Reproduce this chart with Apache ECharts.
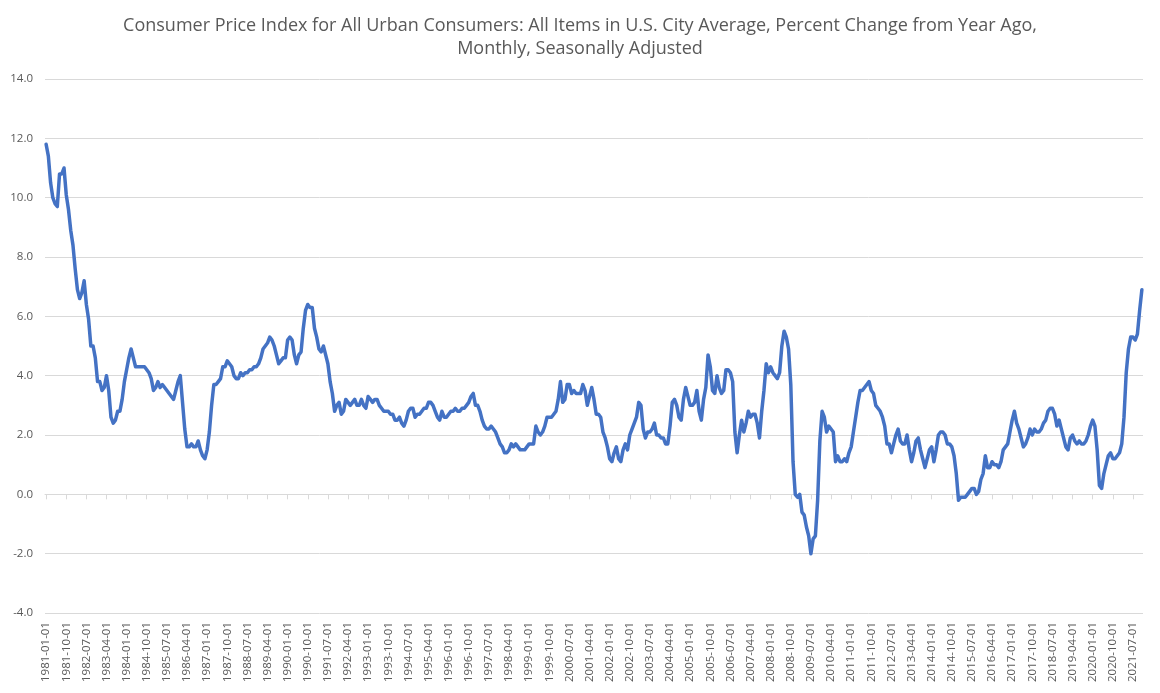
<!DOCTYPE html>
<html>
<head>
<meta charset="utf-8">
<title>CPI percent change from year ago</title>
<script src="https://cdn.jsdelivr.net/npm/echarts@6/dist/echarts.min.js"></script>
<style>
  html, body { margin: 0; padding: 0; background: #fff; }
  #chart { width: 1160px; height: 693px; }
</style>
</head>
<body>
<div id="chart"></div>
<script>
// CPI-U, all items, percent change from year ago (monthly, SA)
var cpi1981 = [11.8, 11.4, 10.5, 10.0, 9.8, 9.7, 10.8, 10.8, 11.0, 10.1, 9.6, 8.9];
var cpi1982 = [8.4, 7.6, 6.9, 6.6, 6.8, 7.2, 6.4, 5.9, 5.0, 5.0, 4.6, 3.8];
var cpi1983 = [3.8, 3.5, 3.6, 4.0, 3.5, 2.6, 2.4, 2.5, 2.8, 2.8, 3.2, 3.8];
var cpi1984 = [4.2, 4.6, 4.9, 4.6, 4.3, 4.3, 4.3, 4.3, 4.3, 4.2, 4.1, 3.9];
var cpi1985 = [3.5, 3.6, 3.8, 3.6, 3.7, 3.6, 3.5, 3.4, 3.3, 3.2, 3.5, 3.8];
var cpi1986 = [4.0, 3.1, 2.2, 1.6, 1.6, 1.7, 1.6, 1.6, 1.8, 1.5, 1.3, 1.2];
var cpi1987 = [1.5, 2.1, 3.0, 3.7, 3.7, 3.8, 3.9, 4.3, 4.3, 4.5, 4.4, 4.3];
var cpi1988 = [4.0, 3.9, 3.9, 4.1, 4.0, 4.1, 4.1, 4.2, 4.2, 4.3, 4.3, 4.4];
var cpi1989 = [4.6, 4.9, 5.0, 5.1, 5.3, 5.2, 5.0, 4.7, 4.4, 4.5, 4.6, 4.6];
var cpi1990 = [5.2, 5.3, 5.2, 4.7, 4.4, 4.7, 4.8, 5.6, 6.2, 6.4, 6.3, 6.3];
var cpi1991 = [5.6, 5.3, 4.9, 4.8, 5.0, 4.7, 4.4, 3.8, 3.4, 2.8, 3.0, 3.1];
var cpi1992 = [2.7, 2.8, 3.2, 3.1, 3.0, 3.1, 3.2, 3.0, 3.0, 3.2, 3.0, 2.9];
var cpi1993 = [3.3, 3.2, 3.1, 3.2, 3.2, 3.0, 2.9, 2.8, 2.8, 2.8, 2.7, 2.7];
var cpi1994 = [2.5, 2.5, 2.6, 2.4, 2.3, 2.5, 2.8, 2.9, 2.9, 2.6, 2.7, 2.7];
var cpi1995 = [2.8, 2.9, 2.9, 3.1, 3.1, 3.0, 2.8, 2.6, 2.5, 2.8, 2.6, 2.6];
var cpi1996 = [2.7, 2.8, 2.8, 2.9, 2.8, 2.8, 2.9, 2.9, 3.0, 3.1, 3.3, 3.4];
var cpi1997 = [3.0, 3.0, 2.8, 2.5, 2.3, 2.2, 2.2, 2.3, 2.2, 2.1, 1.9, 1.7];
var cpi1998 = [1.6, 1.4, 1.4, 1.5, 1.7, 1.6, 1.7, 1.6, 1.5, 1.5, 1.5, 1.6];
var cpi1999 = [1.7, 1.7, 1.7, 2.3, 2.1, 2.0, 2.1, 2.3, 2.6, 2.6, 2.6, 2.7];
var cpi2000 = [2.8, 3.2, 3.8, 3.1, 3.2, 3.7, 3.7, 3.4, 3.5, 3.4, 3.4, 3.4];
var cpi2001 = [3.7, 3.5, 3.0, 3.3, 3.6, 3.2, 2.7, 2.7, 2.6, 2.1, 1.9, 1.6];
var cpi2002 = [1.2, 1.1, 1.4, 1.6, 1.2, 1.1, 1.5, 1.7, 1.5, 2.0, 2.2, 2.4];
var cpi2003 = [2.6, 3.1, 3.0, 2.2, 1.9, 2.1, 2.1, 2.2, 2.4, 2.0, 2.0, 1.9];
var cpi2004 = [1.9, 1.7, 1.7, 2.3, 3.1, 3.2, 3.0, 2.6, 2.5, 3.2, 3.6, 3.3];
var cpi2005 = [3.0, 3.0, 3.1, 3.5, 2.8, 2.5, 3.2, 3.6, 4.7, 4.3, 3.5, 3.4];
var cpi2006 = [4.0, 3.6, 3.4, 3.5, 4.2, 4.2, 4.1, 3.8, 2.1, 1.4, 2.0, 2.5];
var cpi2007 = [2.1, 2.4, 2.8, 2.6, 2.7, 2.7, 2.4, 1.9, 2.8, 3.5, 4.4, 4.1];
var cpi2008 = [4.3, 4.1, 4.0, 3.9, 4.1, 5.0, 5.5, 5.3, 4.9, 3.7, 1.1, 0.0];
var cpi2009 = [-0.1, 0.0, -0.6, -0.7, -1.1, -1.4, -2.0, -1.5, -1.4, -0.2, 1.8, 2.8];
var cpi2010 = [2.6, 2.1, 2.3, 2.2, 2.1, 1.1, 1.3, 1.1, 1.1, 1.2, 1.1, 1.4];
var cpi2011 = [1.6, 2.1, 2.6, 3.1, 3.5, 3.5, 3.6, 3.7, 3.8, 3.5, 3.4, 3.0];
var cpi2012 = [2.9, 2.8, 2.6, 2.3, 1.7, 1.7, 1.4, 1.7, 2.0, 2.2, 1.8, 1.7];
var cpi2013 = [1.7, 2.0, 1.5, 1.1, 1.4, 1.8, 1.9, 1.5, 1.2, 0.9, 1.2, 1.5];
var cpi2014 = [1.6, 1.1, 1.5, 2.0, 2.1, 2.1, 2.0, 1.7, 1.7, 1.6, 1.3, 0.7];
var cpi2015 = [-0.2, -0.1, -0.1, -0.1, 0.0, 0.1, 0.2, 0.2, 0.0, 0.1, 0.5, 0.7];
var cpi2016 = [1.3, 0.9, 0.9, 1.1, 1.0, 1.0, 0.9, 1.1, 1.5, 1.6, 1.7, 2.1];
var cpi2017 = [2.5, 2.8, 2.4, 2.2, 1.9, 1.6, 1.7, 1.9, 2.2, 2.0, 2.2, 2.1];
var cpi2018 = [2.1, 2.2, 2.4, 2.5, 2.8, 2.9, 2.9, 2.7, 2.3, 2.5, 2.2, 1.9];
var cpi2019 = [1.6, 1.5, 1.9, 2.0, 1.8, 1.7, 1.8, 1.7, 1.7, 1.8, 2.0, 2.3];
var cpi2020 = [2.5, 2.3, 1.5, 0.3, 0.2, 0.7, 1.0, 1.3, 1.4, 1.2, 1.2, 1.3];
var cpi2021 = [1.4, 1.7, 2.6, 4.1, 4.9, 5.3, 5.3, 5.2, 5.4, 6.2, 6.9];

var firstYear = 1981;
var yearRows = [
  cpi1981, cpi1982, cpi1983, cpi1984, cpi1985, cpi1986, cpi1987, cpi1988, cpi1989, cpi1990,
  cpi1991, cpi1992, cpi1993, cpi1994, cpi1995, cpi1996, cpi1997, cpi1998, cpi1999, cpi2000,
  cpi2001, cpi2002, cpi2003, cpi2004, cpi2005, cpi2006, cpi2007, cpi2008, cpi2009, cpi2010,
  cpi2011, cpi2012, cpi2013, cpi2014, cpi2015, cpi2016, cpi2017, cpi2018, cpi2019, cpi2020,
  cpi2021
];

var yTicks = { min: -4, max: 14, step: 2 };

// flatten into date categories + values
var dates = [];
var values = [];
yearRows.forEach(function (row, yi) {
  row.forEach(function (v, mi) {
    var mm = mi + 1 < 10 ? '0' + (mi + 1) : '' + (mi + 1);
    dates.push((firstYear + yi) + '-' + mm + '-01');
    values.push(v);
  });
});

var GRAY_TEXT = '#595959';
var GRID_LINE = '#d9d9d9';
var FONT = '"Open Sans", "Liberation Sans", sans-serif';

var chart = echarts.init(document.getElementById('chart'), null, { renderer: 'canvas' });

var option = {
  backgroundColor: '#ffffff',
  animation: false,
  title: {
    text: 'Consumer Price Index for All Urban Consumers: All Items in U.S. City Average, Percent Change from Year Ago,\nMonthly, Seasonally Adjusted',
    left: 'center',
    top: 9,
    textStyle: {
      fontFamily: FONT,
      fontSize: 18,
      fontWeight: 'normal',
      color: GRAY_TEXT,
      lineHeight: 23,
      align: 'center'
    }
  },
  grid: {
    left: 45,
    right: 17,
    top: 79,
    bottom: 80
  },
  xAxis: [
    {
      // labels along the bottom edge
      type: 'category',
      data: dates,
      boundaryGap: true,
      position: 'bottom',
      axisLine: { show: false, onZero: false },
      axisTick: { show: false },
      splitLine: { show: false },
      axisLabel: {
        interval: 8,
        rotate: 90,
        margin: 9,
        color: GRAY_TEXT,
        fontFamily: FONT,
        fontSize: 11.5
      }
    },
    {
      // axis line crossing at zero, with ticks only
      type: 'category',
      data: dates,
      boundaryGap: true,
      position: 'bottom',
      axisLine: { show: true, onZero: true, lineStyle: { color: GRID_LINE, width: 1 } },
      axisTick: {
        show: true,
        interval: 8,
        alignWithLabel: true,
        length: 5,
        lineStyle: { color: GRID_LINE }
      },
      axisLabel: { show: false },
      splitLine: { show: false }
    }
  ],
  yAxis: {
    type: 'value',
    min: yTicks.min,
    max: yTicks.max,
    interval: yTicks.step,
    axisLine: { show: false },
    axisTick: { show: false },
    axisLabel: {
      margin: 12,
      color: GRAY_TEXT,
      fontFamily: FONT,
      fontSize: 11.5,
      formatter: function (v) { return v.toFixed(1); }
    },
    splitLine: { lineStyle: { color: GRID_LINE, width: 1 } }
  },
  series: [
    {
      name: 'CPI YoY',
      type: 'line',
      xAxisIndex: 0,
      data: values,
      symbol: 'none',
      smooth: false,
      lineStyle: { color: '#4472C4', width: 3.5, join: 'round', cap: 'round' },
      z: 5
    }
  ]
};

chart.setOption(option);
</script>
</body>
</html>
